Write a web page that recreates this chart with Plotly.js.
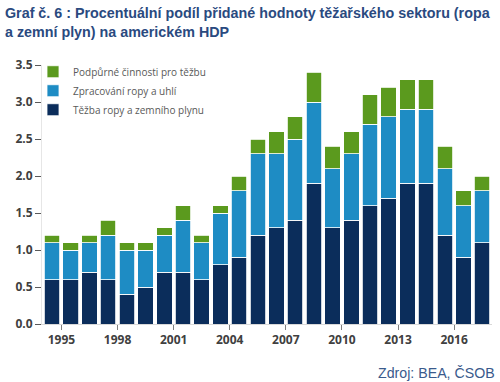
<!DOCTYPE html>
<html>
<head>
<meta charset="utf-8">
<script src="https://cdn.plot.ly/plotly-3.0.1.min.js"></script>
<style>html,body{margin:0;padding:0;background:#fff;}#chart{width:500px;height:382px;}</style>
</head>
<body>
<div id="chart"></div>
<script>
const years = ['1994','1995','1996','1997','1998','1999','2000','2001','2002','2003','2004','2005','2006','2007','2008','2009','2010','2011','2012','2013','2014','2015','2016','2017'];
const tezba = [0.6,0.6,0.7,0.6,0.4,0.5,0.7,0.7,0.6,0.8,0.9,1.2,1.3,1.4,1.9,1.3,1.4,1.6,1.7,1.9,1.9,1.2,0.9,1.1];
const zpracovani = [0.5,0.4,0.4,0.6,0.6,0.5,0.5,0.7,0.5,0.7,0.9,1.1,1.0,1.1,1.1,0.8,0.9,1.1,1.1,1.0,1.0,0.9,0.7,0.7];
const podpurne = [0.1,0.1,0.1,0.2,0.1,0.1,0.1,0.2,0.1,0.1,0.2,0.2,0.3,0.3,0.4,0.3,0.3,0.4,0.4,0.4,0.4,0.3,0.2,0.2];
const names = ['Těžba ropy a zemního plynu','Zpracování ropy a uhlí','Podpůrné činnosti pro těžbu'];
const colors = ['#0b2d5b','#1e8cc4','#5b9a1e'];
const series = [tezba, zpracovani, podpurne];

const traces = series.map((vals, i) => ({
  type: 'bar',
  x: years,
  y: vals,
  name: names[i],
  xperiod: 'M12',
  xperiodalignment: 'middle',
  marker: {color: colors[i], line: {color: '#ffffff', width: 0.8}},
  hoverinfo: 'skip'
}));

const layout = {
  width: 500, height: 382,
  margin: {l: 42, r: 8, t: 65, b: 58},
  barmode: 'stack',
  bargap: 0.17,
  paper_bgcolor: '#ffffff',
  plot_bgcolor: '#ffffff',
  showlegend: true,
  legend: {
    x: -0.02, y: 1.03, xanchor: 'left', yanchor: 'top',
    traceorder: 'reversed',
    bgcolor: 'rgba(0,0,0,0)',
    font: {family: 'Open Sans, sans-serif', size: 10, color: '#595959'},
    itemwidth: 30, tracegroupgap: 0
  },
  xaxis: {
    type: 'date',
    range: ['1993-12-18', '2018-01-10'],
    tick0: '1995-01-01', dtick: 'M36', tickformat: '%Y',
    ticks: 'outside', ticklen: 5, tickcolor: '#808080',
    showline: true, linecolor: '#d9d9d9', linewidth: 1,
    showgrid: false, zeroline: false,
    tickfont: {family: 'Open Sans, sans-serif', size: 12, color: '#404040', weight: 'bold'}
  },
  yaxis: {
    range: [0, 3.5],
    tickvals: [0, 0.5, 1, 1.5, 2, 2.5, 3, 3.5],
    tickformat: '.1f',
    ticks: 'outside', ticklen: 6, tickcolor: '#595959',
    showline: true, linecolor: '#e6e6e6', linewidth: 1,
    showgrid: false, zeroline: false,
    tickfont: {family: 'Open Sans, sans-serif', size: 12, color: '#404040', weight: 'bold'}
  },
  annotations: [{
    text: 'Graf č. 6 : Procentuální podíl přidané hodnoty těžařského sektoru (ropa<br>a zemní plyn) na americkém HDP',
    xref: 'paper', yref: 'paper', x: -0.0867, y: 1.24, xanchor: 'left', yanchor: 'top', align: 'left',
    showarrow: false,
    font: {family: 'Liberation Sans, Arial, sans-serif', size: 14.3, color: '#2a4a7f', weight: 'bold'}
  }, {
    text: 'Zdroj: BEA, ČSOB',
    xref: 'paper', yref: 'paper', x: 1.01, y: -0.189, xanchor: 'right', yanchor: 'middle',
    showarrow: false,
    font: {family: 'Liberation Sans, Arial, sans-serif', size: 14.2, color: '#3a5a8c'}
  }]
};

Plotly.newPlot('chart', traces, layout, {displayModeBar: false, staticPlot: true});
</script>
</body>
</html>
